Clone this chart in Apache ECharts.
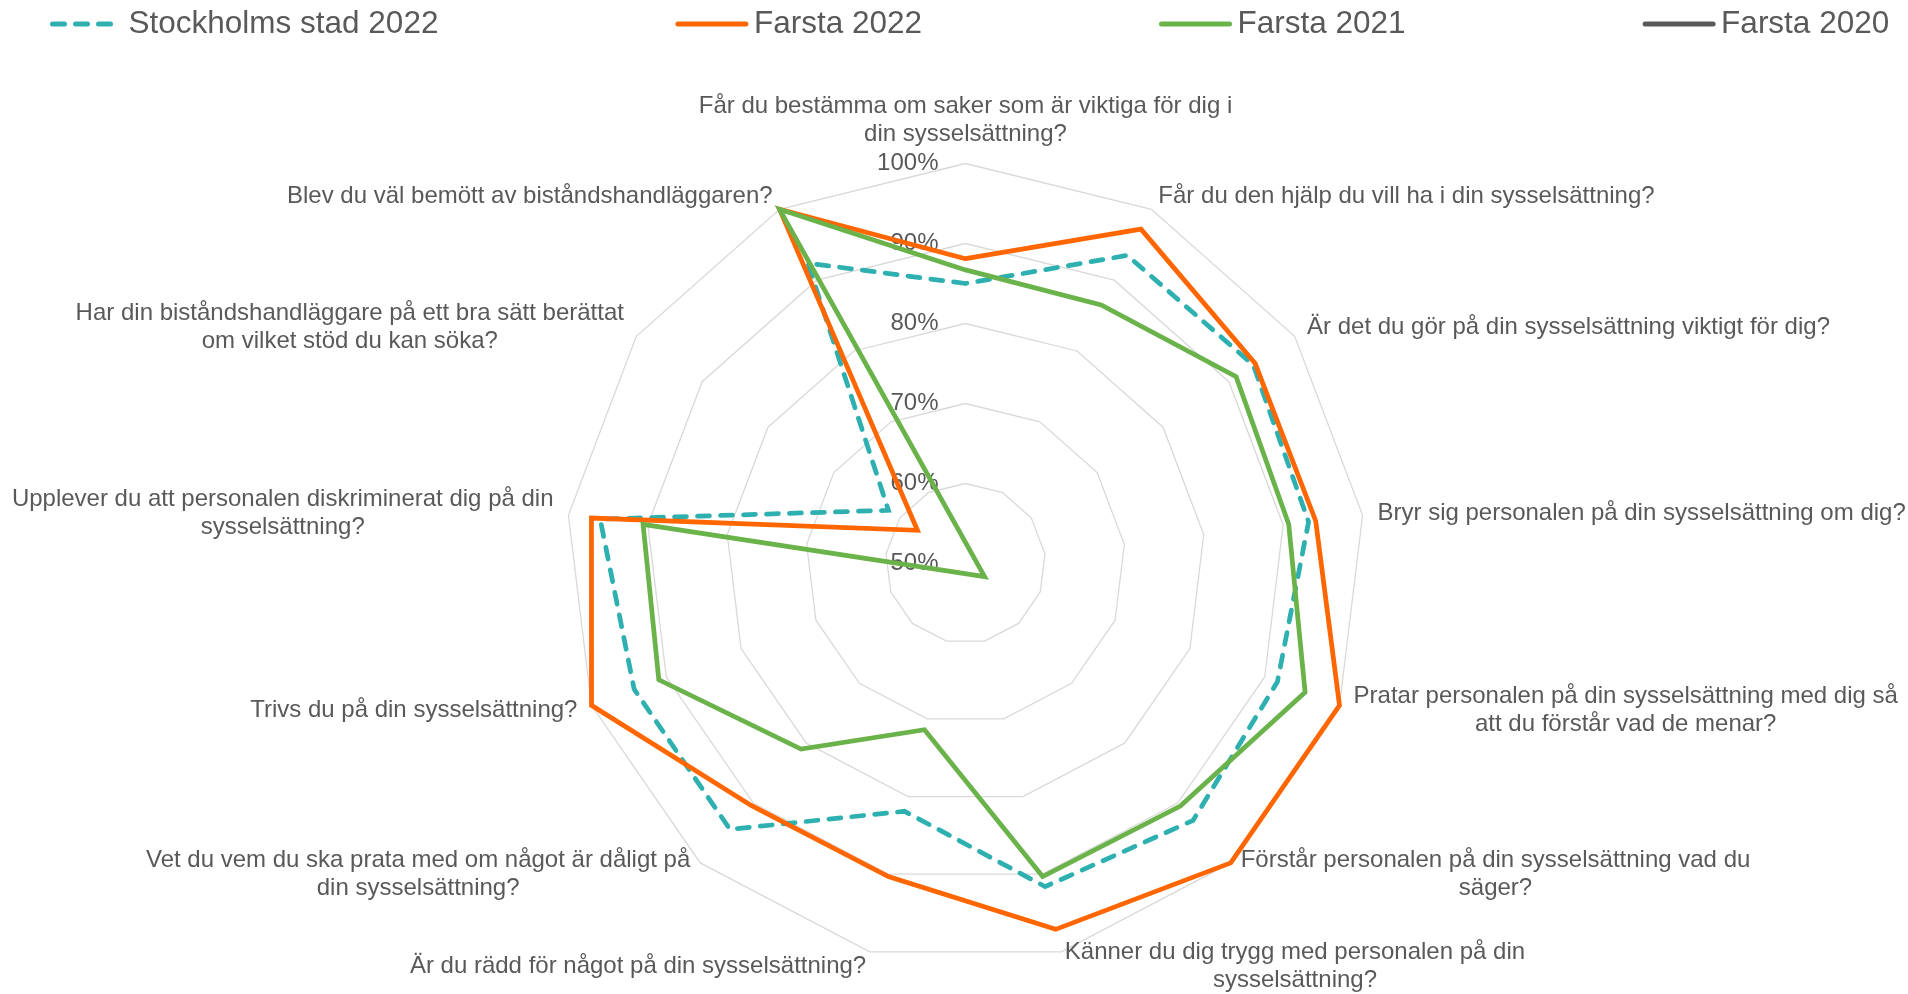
<!DOCTYPE html>
<html>
<head>
<meta charset="utf-8">
<script src="https://cdn.jsdelivr.net/npm/echarts@6/dist/echarts.min.js"></script>
<style>html,body{margin:0;padding:0;background:#fff}#c{width:1908px;height:994px}</style>
</head>
<body>
<div id="c"></div>
<script>
// ---- data (clockwise from the top axis) ----
const categories = [
  'Får du bestämma om saker som är viktiga för dig i\ndin sysselsättning?',
  'Får du den hjälp du vill ha i din sysselsättning?',
  'Är det du gör på din sysselsättning viktigt för dig?',
  'Bryr sig personalen på din sysselsättning om dig?',
  'Pratar personalen på din sysselsättning med dig så\natt du förstår vad de menar?',
  'Förstår personalen på din sysselsättning vad du\nsäger?',
  'Känner du dig trygg med personalen på din\nsysselsättning?',
  'Är du rädd för något på din sysselsättning?',
  'Vet du vem du ska prata med om något är dåligt på\ndin sysselsättning?',
  'Trivs du på din sysselsättning?',
  'Upplever du att personalen diskriminerat dig på din\nsysselsättning?',
  'Har din biståndshandläggare på ett bra sätt berättat\nom vilket stöd du kan söka?',
  'Blev du väl bemött av biståndshandläggaren?'
];
const seriesNames = ['Stockholms stad 2022', 'Farsta 2022', 'Farsta 2021', 'Farsta 2020'];
const stockholm2022 = [85.0, 93.5, 93.7, 93.2, 91.7, 92.9, 91.6, 81.9, 94.4, 94.3, 96.0, 61.7, 92.4];
const farsta2022    = [88.1, 97.2, 94.0, 94.1, 100, 100, 97.1, 90.3, 90.4, 100, 97.1, 57.3, 100];
const farsta2021    = [86.7, 86.5, 91.1, 90.7, 95.4, 90.5, 90.3, 71.4, 81.0, 91.0, 90.6, 47.1, 100];
const farsta2020    = [];
const tickValues = [50, 60, 70, 80, 90, 100];
const axisMin = 50, axisMax = 100;

// ---- styling ----
const FONT = '"Liberation Sans", Arial, Helvetica, sans-serif';
const TEXT = '#595959';
const colors = ['#2EB0B0', '#FF6600', '#6AB24A', '#595959'];
const dashes = [[12, 11], 'solid', 'solid', 'solid'];
const valueSets = [stockholm2022, farsta2022, farsta2021, farsta2020];

// ECharts radar runs counter-clockwise; reorder so the picture runs clockwise
const n = categories.length;
const order = categories.map((_, i) => (n - i) % n);
const reorder = arr => arr.length ? order.map(k => arr[k]) : [];

const indicators = order.map((k, i) => {
  const o = { name: categories[k], min: axisMin, max: axisMax };
  if (i === 0) o.axisLabel = { show: true };
  return o;
});

const legendSeries = seriesNames.map((name, i) => ({
  type: 'line', name, data: [], symbol: 'none',
  xAxisIndex: 0, yAxisIndex: 0,
  itemStyle: { color: colors[i] },
  lineStyle: { color: colors[i], width: 4.75, type: dashes[i], cap: 'round' }
}));

const radarSeries = seriesNames.map((name, i) => ({
  type: 'radar', name, symbol: 'none', silent: true,
  lineStyle: { color: colors[i], width: 4.75, type: dashes[i], cap: 'round', join: 'miter' },
  itemStyle: { color: colors[i] },
  data: valueSets[i].length ? [{ name, value: reorder(valueSets[i]) }] : []
}));

const chart = echarts.init(document.getElementById('c'), null, { renderer: 'canvas' });
chart.setOption({
  animation: false,
  backgroundColor: '#ffffff',
  textStyle: { fontFamily: FONT },
  grid: { show: false, left: 0, top: 0, width: 10, height: 10 },
  xAxis: { show: false, type: 'value' },
  yAxis: { show: false, type: 'value' },
  legend: {
    data: seriesNames,
    left: 50, top: 8, padding: 0,
    itemGap: 237, itemWidth: 68, itemHeight: 14,
    itemStyle: { opacity: 0 },
    lineStyle: { width: 5 },
    textStyle: { color: TEXT, fontSize: 31.5, fontFamily: FONT, lineHeight: 32, padding: [0, 0, 0, 3] }
  },
  radar: {
    center: [965.5, 563.5],
    radius: 400,
    startAngle: 90,
    shape: 'polygon',
    splitNumber: 5,
    indicator: indicators,
    nameGap: 15,
    axisName: {
      color: TEXT, fontSize: 24, fontFamily: FONT, lineHeight: 28,
      formatter: name => name.split('\n').map(l => '{c|' + l + '}').join('\n'),
      rich: { c: { align: 'center', color: TEXT, fontSize: 24, fontFamily: FONT, lineHeight: 28 } }
    },
    axisLine: { show: false },
    axisTick: { show: false },
    axisLabel: {
      show: false, margin: 27, color: TEXT, fontSize: 24, fontFamily: FONT,
      formatter: v => tickValues.includes(Math.round(v)) ? Math.round(v) + '%' : ''
    },
    splitLine: { lineStyle: { color: '#D9D9D9', width: 1.3 } },
    splitArea: { show: false }
  },
  series: legendSeries.concat(radarSeries)
});
</script>
</body>
</html>
